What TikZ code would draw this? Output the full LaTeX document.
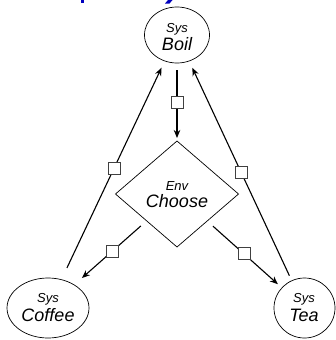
\documentclass[tikz,border=0pt]{standalone}
\usepackage{fontspec}
\setmainfont{Liberation Sans}
\usetikzlibrary{shapes.geometric,arrows.meta}
\begin{document}
\begin{tikzpicture}[x=1pt,y=-1pt,
  sysnode/.style={draw,ellipse,inner sep=0pt,outer sep=0pt,line width=0.7pt},
  envnode/.style={draw,diamond,inner sep=0pt,outer sep=0pt,line width=0.7pt},
  small/.style={anchor=base,inner sep=0pt,font=\fontsize{13}{13}\selectfont\itshape},
  big/.style={anchor=base,inner sep=0pt,font=\fontsize{18}{18}\selectfont\itshape},
  conn/.style={line width=1.1pt,-{Stealth[length=8pt,width=6.5pt,inset=2.5pt]}},
  sq/.style={draw=black!75,fill=white,line width=0.6pt,minimum size=12pt,inner sep=0pt}]
\useasboundingbox (0,0) rectangle (336,340);
% cut-off title descenders
\fill[blue!75!black] (80.5,0) rectangle (84,3);
\fill[blue!75!black] (168,0) -- (172.5,0) -- (169.5,3.5) -- (165,3.5) -- cycle;
% nodes
\node[sysnode,minimum width=65pt,minimum height=56pt] (boil) at (177,35) {};
\node[envnode,minimum width=123pt,minimum height=106pt] (choose) at (177,194) {};
\node[sysnode,minimum width=82pt,minimum height=60pt] (coffee) at (48,308) {};
\node[sysnode,minimum width=61pt,minimum height=60pt] (tea) at (304.5,308) {};
% labels
\node[small] (boilk) at (177,32.5) {Sys};
\node[big] (boilt) at (177,50) {Boil};
\node[small] (choosek) at (177,190.5) {Env};
\node[big] (chooset) at (177,207.5) {Choose};
\node[small] (coffeek) at (48,302.5) {Sys};
\node[big] (coffeet) at (48,321) {Coffee};
\node[small] (teak) at (304,302.5) {Sys};
\node[big] (teat) at (304,321) {Tea};
% connectors
\draw[conn,shorten <=7pt,shorten >=3pt] (boil) -- node[sq,pos=0.5] (s1) {} (choose);
\draw[conn,shorten <=13pt,shorten >=7.5pt] (coffee) -- node[sq,pos=0.51] (s2) {} (boil);
\draw[conn,shorten <=5.6pt,shorten >=7.5pt] (tea) -- node[sq,pos=0.495] (s3) {} (boil);
\draw[conn,shorten <=7.7pt,shorten >=10.4pt] (choose) -- node[sq,pos=0.47] (s4) {} (coffee);
\draw[conn,shorten <=7.7pt,shorten >=5.4pt] (choose) -- node[sq,pos=0.49] (s5) {} (tea);
\end{tikzpicture}
\end{document}
